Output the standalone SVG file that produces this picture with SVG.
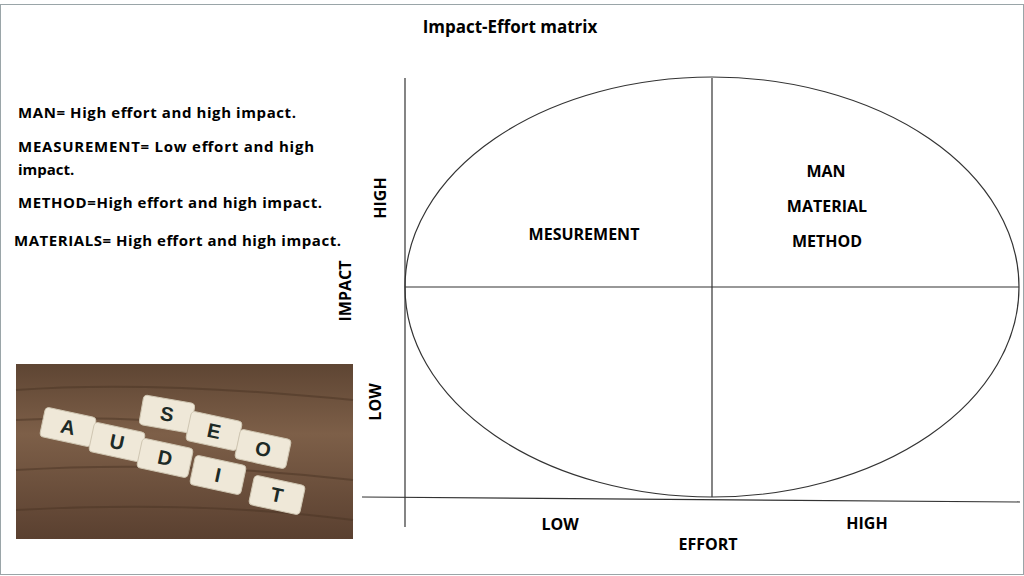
<svg xmlns="http://www.w3.org/2000/svg" width="1024" height="576" viewBox="0 0 1024 576">
<style>
.t{font-family:"Open Sans","Liberation Sans",sans-serif;font-weight:bold;fill:#000}
.ln{stroke:#333;stroke-width:1.2;fill:none}
.tile{fill:#efe8d8;stroke:#cfc6b2;stroke-width:1}
.lt{font-family:"Liberation Sans",sans-serif;font-weight:bold;font-size:20px;fill:#1d2a26;text-anchor:middle}
</style>
<defs>
<linearGradient id="wood" x1="0" y1="0" x2="0" y2="1">
<stop offset="0" stop-color="#5e4533"/><stop offset="0.4" stop-color="#7d5f48"/><stop offset="1" stop-color="#5a4030"/>
</linearGradient>
</defs>
<rect x="0.5" y="4.5" width="1023" height="570" fill="#fff" stroke="#9aa5a8"/>
<text class="t" x="510" y="33" font-size="17" text-anchor="middle">Impact-Effort matrix</text>
<g id="legend" class="t" font-size="15">
<text x="18" y="118" textLength="278">MAN= High effort and high impact.</text>
<text x="18" y="152" textLength="296">MEASUREMENT= Low effort and high</text>
<text x="18" y="175">impact.</text>
<text x="18" y="208" textLength="304">METHOD=High effort and high impact.</text>
<text x="14" y="246" textLength="327">MATERIALS= High effort and high impact.</text>
</g>
<g id="photo">
<rect x="16" y="364" width="337" height="175" fill="url(#wood)"/>
<path d="M16 390 Q150 380 353 400 M16 470 Q180 460 353 480 M16 510 Q200 500 353 520 M16 420 Q120 415 200 425" stroke="#4a3424" stroke-width="2" fill="none" opacity="0.5"/>
<g transform="translate(68,427) rotate(12)"><rect class="tile" x="-26" y="-15" width="52" height="30" rx="4"/><text class="lt" y="7">A</text></g>
<g transform="translate(167,414) rotate(10)"><rect class="tile" x="-26" y="-15" width="52" height="30" rx="4"/><text class="lt" y="7">S</text></g>
<g transform="translate(214,431) rotate(12)"><rect class="tile" x="-26" y="-15" width="52" height="30" rx="4"/><text class="lt" y="7">E</text></g>
<g transform="translate(263,449) rotate(12)"><rect class="tile" x="-26" y="-15" width="52" height="30" rx="4"/><text class="lt" y="7">O</text></g>
<g transform="translate(117,442) rotate(12)"><rect class="tile" x="-26" y="-15" width="52" height="30" rx="4"/><text class="lt" y="7">U</text></g>
<g transform="translate(165,458) rotate(12)"><rect class="tile" x="-26" y="-15" width="52" height="30" rx="4"/><text class="lt" y="7">D</text></g>
<g transform="translate(218,475) rotate(12)"><rect class="tile" x="-26" y="-15" width="52" height="30" rx="4"/><text class="lt" y="7">I</text></g>
<g transform="translate(277,495) rotate(12)"><rect class="tile" x="-26" y="-15" width="52" height="30" rx="4"/><text class="lt" y="7">T</text></g>
</g>
<g id="connectors">
<ellipse class="ln" cx="712" cy="287" rx="307" ry="210"/>
<line class="ln" x1="712" y1="78" x2="712" y2="497"/>
<line class="ln" x1="405" y1="287" x2="1019" y2="287"/>
<line class="ln" x1="405" y1="78" x2="405" y2="527"/>
<line class="ln" x1="362" y1="497" x2="1020" y2="502"/>
</g>
<g id="labels" class="t" font-size="16">
<text x="584" y="240" text-anchor="middle">MESUREMENT</text>
<text x="826" y="177" text-anchor="middle">MAN</text>
<text x="827" y="212" text-anchor="middle">MATERIAL</text>
<text x="827" y="247" text-anchor="middle">METHOD</text>
<text x="560" y="530" text-anchor="middle">LOW</text>
<text x="867" y="529" text-anchor="middle">HIGH</text>
<text x="708" y="550" text-anchor="middle">EFFORT</text>
<text transform="translate(386,198) rotate(-90)" text-anchor="middle">HIGH</text>
<text transform="translate(351,291) rotate(-90)" text-anchor="middle">IMPACT</text>
<text transform="translate(381,402) rotate(-90)" text-anchor="middle">LOW</text>
</g>
</svg>
